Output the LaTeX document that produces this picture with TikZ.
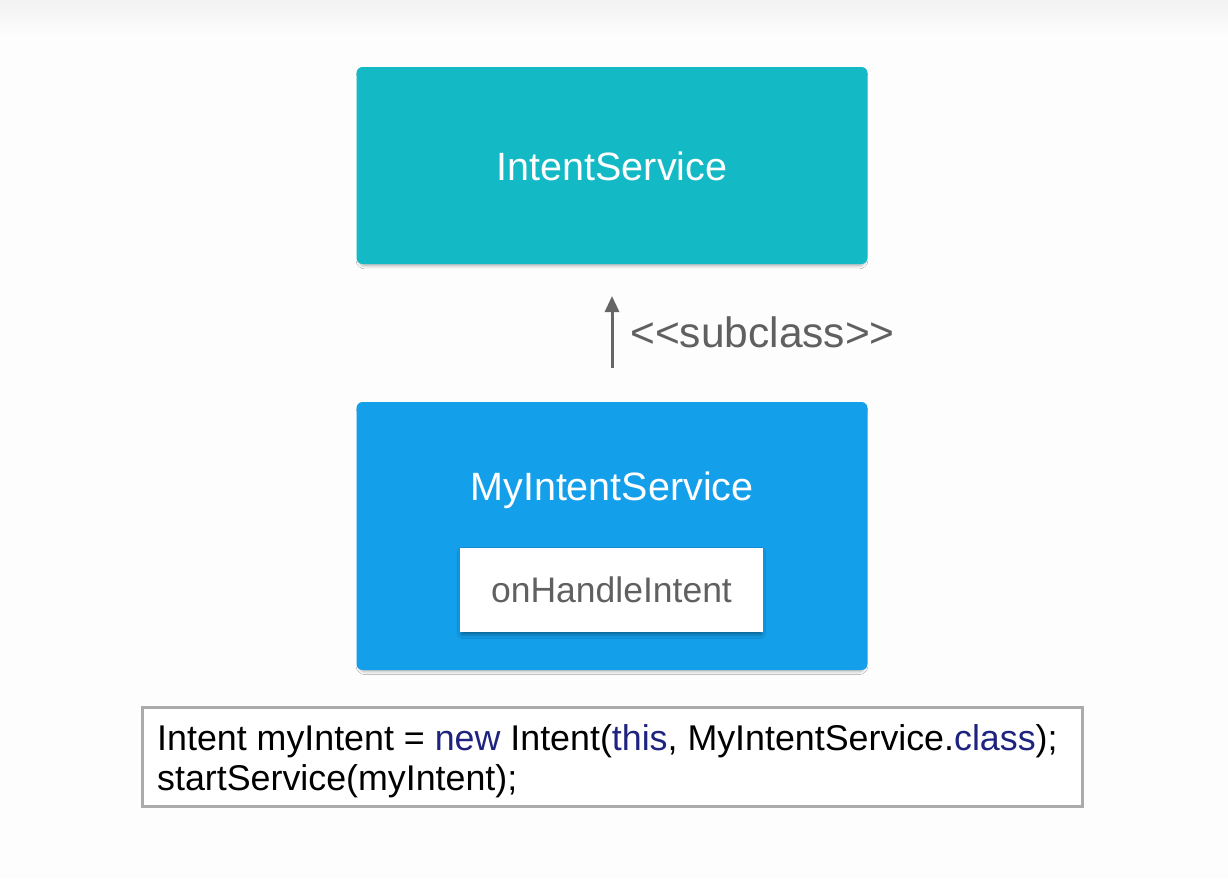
\documentclass[tikz,border=0pt]{standalone}
\usepackage{fontspec}
\setmainfont{Liberation Sans}
\usetikzlibrary{arrows.meta,shadows.blur}
\definecolor{tealbox}{HTML}{13B9C5}
\definecolor{bluebox}{HTML}{149FEA}
\definecolor{labelgray}{HTML}{606060}
\definecolor{arrowgray}{HTML}{666666}
\definecolor{codeborder}{HTML}{ABABAB}
\definecolor{kw}{HTML}{1E2380}
\definecolor{bg}{HTML}{FDFDFD}
\definecolor{bgtop}{HTML}{F2F2F2}
\tikzset{
  boxshadow/.style={blur shadow={shadow xshift=0pt,shadow yshift=-3pt,shadow scale=0.99,shadow blur radius=3pt,shadow opacity=30}},
  classbox/.style={rounded corners=6pt,minimum width=511pt,inner sep=0pt,boxshadow},
  methodbox/.style={fill=white,minimum width=303pt,minimum height=84pt,inner sep=0pt,
     text=labelgray,font=\fontsize{35.5}{40}\selectfont,
     blur shadow={shadow xshift=0pt,shadow yshift=-3pt,shadow scale=0.99,shadow blur radius=4pt,shadow opacity=40}},
  codebox/.style={draw=codeborder,line width=3pt,fill=white,minimum width=940pt,minimum height=99pt,inner sep=0pt},
  codeline/.style={anchor=base west,inner sep=0pt,font=\fontsize{35.8}{40}\selectfont,text=black},
  arrowline/.style={draw=arrowgray,line width=3pt,-{Triangle[length=16pt,width=14pt]}},
}
\begin{document}
\begin{tikzpicture}[x=1pt,y=-1pt]
\useasboundingbox (0,0) rectangle (1228,878);
\fill[bg] (0,0) rectangle (1228,878);
\shade[top color=bgtop,bottom color=bg] (0,0) rectangle (1228,35);
% IntentService
\node[classbox,fill=tealbox,minimum height=197pt] (intentservice) at (612,165.5) {};
\node[text=white,font=\fontsize{39.5}{44}\selectfont,inner sep=0pt,anchor=base] (intentlabel) at (612,180) {IntentService};
% subclass arrow
\coordinate (arrowtail) at (612,368);
\coordinate (arrowhead) at (612,296);
\draw[arrowline] (arrowtail) -- (arrowhead);
\node[text=labelgray,font=\fontsize{42.5}{46}\selectfont,inner sep=0pt,anchor=base west] (subclass) at (630,347) {<{}<subclass>{}>};
% MyIntentService
\node[classbox,fill=bluebox,minimum height=268pt] (myservice) at (612,536) {};
\node[text=white,font=\fontsize{39.5}{44}\selectfont,inner sep=0pt,anchor=base] (mylabel) at (612,500) {MyIntentService};
\node[methodbox] (onhandle) at (611.5,590) {onHandleIntent};
% code box
\node[codebox] (code) at (612,756.5) {};
\node[codeline] (codeone) at (157,750) {Intent myIntent = \textcolor{kw}{new} Intent(\textcolor{kw}{this}, MyIntentService.\textcolor{kw}{class});};
\node[codeline] (codetwo) at (157,790) {startService(myIntent);};
\end{tikzpicture}
\end{document}
